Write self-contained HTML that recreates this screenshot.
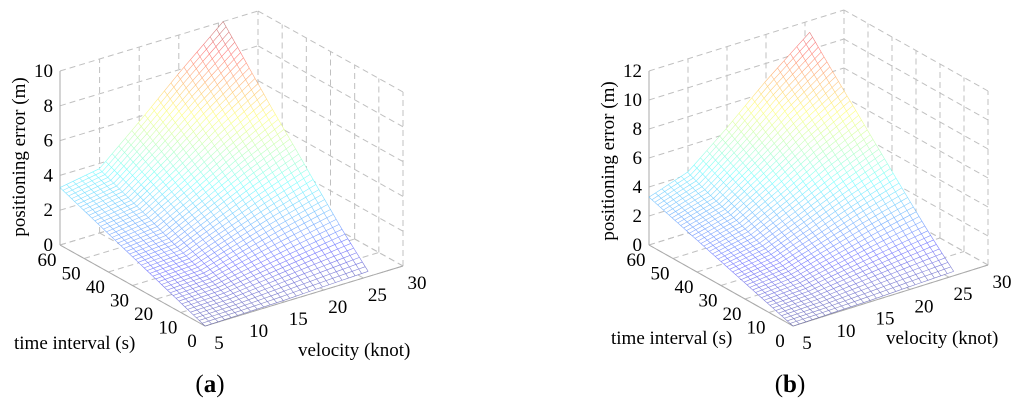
<!DOCTYPE html>
<html><head><meta charset="utf-8"><style>
body{margin:0;background:#fff;}
svg{display:block;}
text{font-family:"Liberation Serif","Times New Roman",serif;}
</style></head><body>
<svg id="chart" width="1024" height="408" viewBox="0 0 1024 408"></svg>
<script>
const timeTicks = [0,10,20,30,40,50,60];
const velTicks = [5,10,15,20,25,30];
const gridTimes = [0,10,20,30,40,50,60];
const gridVels = [5,10,15,20,25.6];
const errorsA = [
 [0.0,0.05,0.1,0.2,0.3],
 [0.55,0.65,1.0,1.35,1.75],
 [1.1,1.25,1.95,2.65,3.35],
 [1.65,1.85,2.9,3.95,5.0],
 [2.2,2.5,3.8,5.2,6.6],
 [2.75,3.1,4.75,6.5,8.3],
 [3.3,3.7,5.7,7.8,10.0]
];
const zTicksA = [0,2,4,6,8,10];
const errorsB = [
 [0.0,0.05,0.1,0.2,0.3],
 [0.55,0.7,1.1,1.5,1.95],
 [1.1,1.4,2.15,2.95,3.75],
 [1.65,2.1,3.2,4.4,5.6],
 [2.2,2.8,4.3,5.9,7.45],
 [2.75,3.45,5.35,7.35,9.3],
 [3.3,4.2,6.4,8.8,11.2]
];
const zTicksB = [0,2,4,6,8,10,12];

const NS="http://www.w3.org/2000/svg";
const svg=document.getElementById('chart');
function mk(tag,attrs,parent){const e=document.createElementNS(NS,tag);for(const k in attrs)e.setAttribute(k,attrs[k]);(parent||svg).appendChild(e);return e;}

function jet(f){f=Math.max(0,Math.min(1,f));
 const r=Math.max(0,Math.min(1,1.5-Math.abs(4*f-3)));
 const g=Math.max(0,Math.min(1,1.5-Math.abs(4*f-2)));
 const b=Math.max(0,Math.min(1,1.5-Math.abs(4*f-1)));
 return `rgb(${Math.round(r*255)},${Math.round(g*255)},${Math.round(b*255)})`;}

function interp(errors,t,v){
 let i=Math.min(gridTimes.length-2,Math.floor(t/10));let ft=(t-gridTimes[i])/(gridTimes[i+1]-gridTimes[i]);
 let j=0;while(j<gridVels.length-2&&v>gridVels[j+1])j++;
 let fv=(v-gridVels[j])/(gridVels[j+1]-gridVels[j]);
 const a=errors[i][j]*(1-fv)+errors[i][j+1]*fv;
 const b=errors[i+1][j]*(1-fv)+errors[i+1][j+1]*fv;
 return a*(1-ft)+b*ft;}

function panel(cfg){
 const g=mk('g',{});
 
 
 const P=(t,v,z)=>[cfg.F[0]+(v-5)*cfg.vx+t*cfg.tx, cfg.F[1]+(v-5)*cfg.vy+t*cfg.ty - z*cfg.zs];
 const zmax=cfg.zTicks[cfg.zTicks.length-1];
 const line=(a,b,attrs)=>mk('line',Object.assign({x1:a[0],y1:a[1],x2:b[0],y2:b[1]},attrs),g);
 const dash={stroke:'#c0c0c0','stroke-width':1,'stroke-dasharray':'6,4'};
 velTicks.forEach(v=>{line(P(60,v,0),P(60,v,zmax),dash);line(P(0,v,0),P(60,v,0),dash);});
 timeTicks.forEach(t=>{line(P(t,30,0),P(t,30,zmax),dash);line(P(t,5,0),P(t,30,0),dash);});
 cfg.zTicks.forEach(z=>{line(P(0,30,z),P(60,30,z),dash);line(P(60,5,z),P(60,30,z),dash);});
 const ax={stroke:'#aaa','stroke-width':1};
 line(P(60,5,0),P(60,5,zmax),ax);line(P(0,5,0),P(60,5,0),ax);line(P(0,5,0),P(0,30,0),ax);
 const vmax=gridVels[gridVels.length-1];
 const nV=26,nT=51;
 // opaque white surface backing
 const pts=[];
 for(let k=0;k<=20;k++){const v=5+(vmax-5)*k/20;pts.push(P(0,v,interp(cfg.err,0,v)));}
 for(let k=0;k<=20;k++){const t=60*k/20;pts.push(P(t,vmax,interp(cfg.err,t,vmax)));}
 for(let k=20;k>=0;k--){const v=5+(vmax-5)*k/20;pts.push(P(60,v,interp(cfg.err,60,v)));}
 for(let k=20;k>=0;k--){const t=60*k/20;pts.push(P(t,5,interp(cfg.err,t,5)));}
 const back=mk('polygon',{points:pts.map(p=>p.join(',')).join(' '),fill:'#fff',stroke:'none'},g);
 
 
 const mesh=mk('g',{'stroke-width':0.6,fill:'none',opacity:0.5},g);
 
 
 for(let k=0;k<nT;k++){const t=60*k/(nT-1);
  for(let m=0;m<nV-1;m++){const v1=5+(vmax-5)*m/(nV-1),v2=5+(vmax-5)*(m+1)/(nV-1);
   const z1=interp(cfg.err,t,v1),z2=interp(cfg.err,t,v2);
   const a=P(t,v1,z1),b=P(t,v2,z2);
   mk('line',{x1:a[0],y1:a[1],x2:b[0],y2:b[1],stroke:jet((z1+z2)/2/zmax)},mesh);}}
 for(let m=0;m<nV;m++){const v=5+(vmax-5)*m/(nV-1);
  for(let k=0;k<nT-1;k++){const t1=60*k/(nT-1),t2=60*(k+1)/(nT-1);
   const z1=interp(cfg.err,t1,v),z2=interp(cfg.err,t2,v);
   const a=P(t1,v,z1),b=P(t2,v,z2);
   mk('line',{x1:a[0],y1:a[1],x2:b[0],y2:b[1],stroke:jet((z1+z2)/2/zmax)},mesh);}}
 const txt=(x,y,s,anchor,extra)=>{const e=mk('text',Object.assign({x:x,y:y,'font-size':19,'text-anchor':anchor||'middle',fill:'#000','font-family':'Liberation Serif, serif'},extra||{}),g);e.textContent=s;return e;};
 cfg.zTicks.forEach(z=>{const p=P(60,5,z);const e=txt(p[0]-7,p[1]+6,String(z),'end');
  });
 timeTicks.forEach(t=>{const p=P(t,5,0);const e=txt(p[0]-13,p[1]+21,String(t));
  });
 velTicks.forEach(v=>{const p=P(0,v,0);const e=txt(p[0]+14,p[1]+23,String(v));
  });
 const zt=txt(0,0,'positioning error (m)','middle',{transform:`translate(${cfg.zTitle[0]},${cfg.zTitle[1]}) rotate(-90)`});
 
 const tt=txt(cfg.tTitle[0],cfg.tTitle[1],'time interval (s)','start');
 
 const vt=txt(cfg.vTitle[0],cfg.vTitle[1],'velocity (knot)','start');
 
 const lab=mk('text',{x:cfg.label[0],y:cfg.label[1],'font-size':25,'text-anchor':'middle','font-family':'Liberation Serif, serif'},g);
 
 lab.innerHTML='(<tspan font-weight="bold">'+cfg.letter+'</tspan>)';
}
panel({name:'panel-a',F:[205,326],vx:198/25,vy:-60/25,tx:-145/60,ty:-81/60,zs:17.4,zTicks:zTicksA,err:errorsA,
 zTitle:[25,157],tTitle:[14,349],vTitle:[298,356],label:[210,392],letter:'a'});
panel({name:'panel-b',F:[793,326],vx:195/25,vy:-61/25,tx:-144/60,ty:-81/60,zs:14.5,zTicks:zTicksB,err:errorsB,
 zTitle:[614,161],tTitle:[611,344],vTitle:[886,344],label:[790,392],letter:'b'});
</script>
</body></html>
